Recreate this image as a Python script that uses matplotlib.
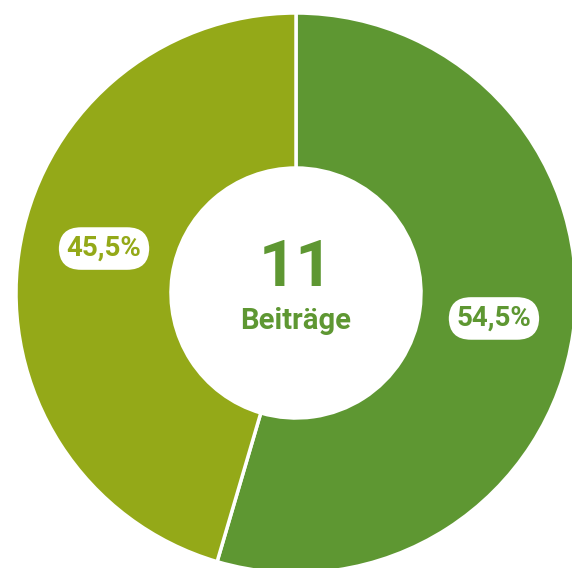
import matplotlib
matplotlib.use("Agg")
import matplotlib.pyplot as plt
import numpy as np

categories = ["A", "B"]
values = [6, 5]
labels = ["54,5%", "45,5%"]
colors = ["#5e9732", "#94a918"]
total_label = "11"
sub_label = "Beiträge"

W, H = 572, 568
fig = plt.figure(figsize=(W / 100, H / 100), dpi=100)
ax = fig.add_axes([0, 0, 1, 1])
cx, cy = 296, 293
R, r_in = 280, 125

wedges, _ = ax.pie(values, radius=R, startangle=90, counterclock=False, colors=colors,
                   wedgeprops=dict(width=R - r_in, edgecolor="white", linewidth=2.5))
ax.set_xlim(-cx, W - cx)
ax.set_ylim(-(H - cy), cy)
ax.set_aspect("equal")
ax.axis("off")

font = "Roboto"
nudges = [(0, 3), (6, 16)]
for w, lab, col, (nx, ny) in zip(wedges, labels, colors, nudges):
    ang = np.deg2rad((w.theta1 + w.theta2) / 2)
    rr = 200
    ax.text(rr * np.cos(ang) + nx, rr * np.sin(ang) + ny, lab,
            ha="center", va="center", fontsize=20, fontweight="bold", color=col,
            family=font,
            bbox=dict(boxstyle="round,pad=0.28,rounding_size=0.8", fc="white", ec="none"))

ax.text(0, 25, total_label, ha="center", va="center", fontsize=47, fontweight="bold",
        color="#5e9732", family=font)
ax.text(0, -28, sub_label, ha="center", va="center", fontsize=21, fontweight="bold",
        color="#5e9732", family=font)

fig.savefig("out.png", dpi=100, facecolor="white")
